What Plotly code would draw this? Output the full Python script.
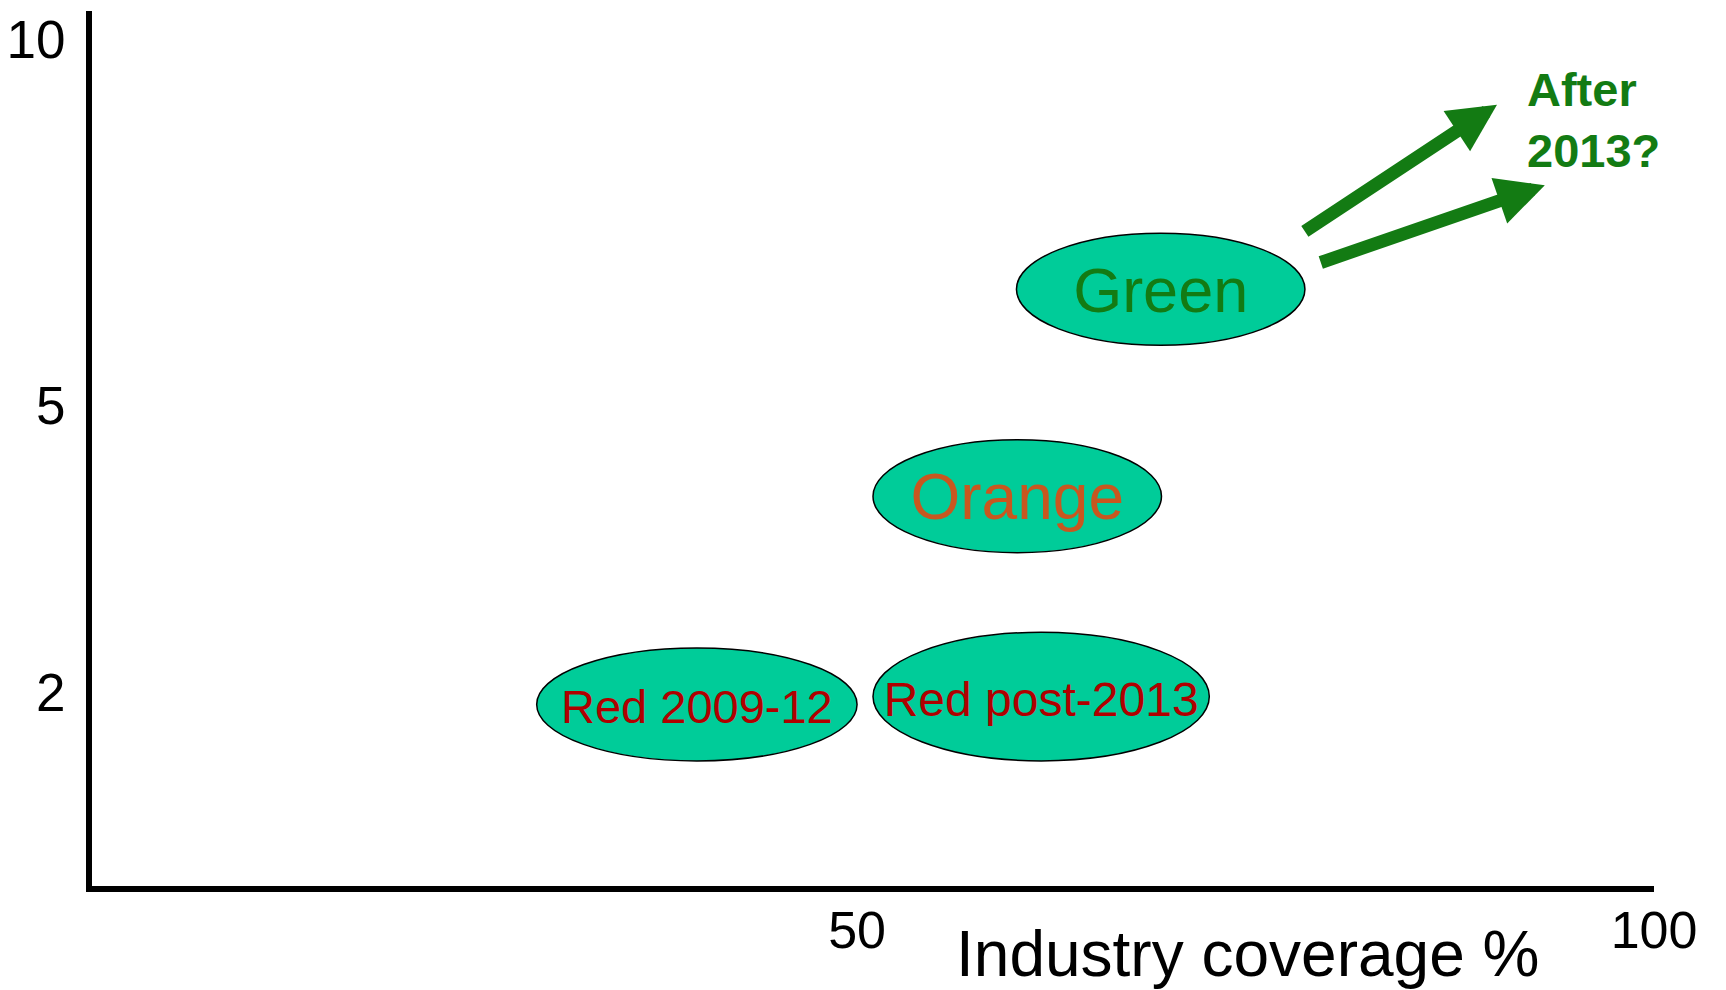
import plotly.graph_objects as go

# Programme stages: each oval spans a range of industry coverage (%) and a range on the level scale
stages = ["Green", "Orange", "Red 2009-12", "Red post-2013"]
coverage_low = [60.0, 51.0, 29.9, 51.0]
coverage_high = [78.1, 69.1, 50.0, 72.1]
level_low = [61.8, 38.1, 14.3, 14.3]
level_high = [74.6, 51.0, 27.2, 29.0]

# Vertical scale ticks (schematic, non-uniform spacing)
level_tick_pos = [22.1, 54.9, 96.7]
level_tick_text = ["2", "5", "10"]

# Horizontal scale ticks
coverage_ticks = [50, 100]

outlook_text = "After<br>2013?"

# ---- styling ----
FONT = "Liberation Sans, Arial, sans-serif"
OVAL_FILL = "#00CC99"
ARROW_GREEN = "#137B13"
label_style = {
    "Green": ("#137B13", 63),
    "Orange": ("#C8571F", 64),
    "Red 2009-12": ("#B00000", 47),
    "Red post-2013": ("#B00000", 48),
}
LABEL_DROP = 0.8  # nudge labels slightly below the oval centre (level units)

ML, MR, MT, MB = 92, 72, 11, 104
PLOT_W = 1726 - ML - MR

cx = [(a + b) / 2 for a, b in zip(coverage_low, coverage_high)]
cy = [(a + b) / 2 - LABEL_DROP for a, b in zip(level_low, level_high)]

fig = go.Figure()

fig.add_trace(go.Scatter(
    x=cx, y=cy, mode="text", text=stages,
    textposition="middle center",
    textfont=dict(
        family=FONT,
        color=[label_style[s][0] for s in stages],
        size=[label_style[s][1] for s in stages],
    ),
    hoverinfo="skip", showlegend=False,
))

for x0, x1, y0, y1 in zip(coverage_low, coverage_high, level_low, level_high):
    fig.add_shape(
        type="circle", xref="x", yref="y",
        x0=x0, x1=x1, y0=y0, y1=y1,
        fillcolor=OVAL_FILL, line=dict(color="black", width=1.5),
        layer="below",
    )

# Two outlook arrows leaving the Green oval
for (tx, ty), (hx, hy) in [((78.0, 74.7), (90.15, 89.3)), ((79.0, 71.2), (93.15, 80.1))]:
    fig.add_annotation(
        x=hx, y=hy, ax=tx, ay=ty, xref="x", yref="y", axref="x", ayref="y",
        text="", showarrow=True, arrowhead=2, arrowsize=0.74,
        arrowwidth=13, arrowcolor=ARROW_GREEN, standoff=0,
    )

fig.add_annotation(
    x=(1524.6 - ML) / PLOT_W, y=0.876, xref="paper", yref="paper",
    xanchor="left", yanchor="middle", align="left",
    text="<b>" + outlook_text + "</b>", showarrow=False,
    font=dict(family=FONT, size=47, color=ARROW_GREEN),
)

# Horizontal axis title
fig.add_annotation(
    x=(1247 - ML) / PLOT_W, y=-0.078, xref="paper", yref="paper",
    xanchor="center", yanchor="middle",
    text="Industry coverage %", showarrow=False,
    font=dict(family=FONT, size=64, color="black"),
)

fig.update_xaxes(
    range=[2, 100], tickvals=coverage_ticks, ticktext=[str(v) for v in coverage_ticks],
    showgrid=False, zeroline=False, showline=True, linecolor="black", linewidth=6,
    ticks="", tickfont=dict(family=FONT, size=52, color="black"),
    ticklabelstandoff=-6, automargin=False,
)
fig.update_yaxes(
    range=[0, 100], tickvals=level_tick_pos, ticktext=level_tick_text,
    showgrid=False, zeroline=False, showline=True, linecolor="black", linewidth=6,
    ticks="", tickfont=dict(family=FONT, size=53, color="black"),
    ticklabelstandoff=10, automargin=False,
)

fig.update_layout(
    width=1726, height=990,
    margin=dict(l=ML, r=MR, t=MT, b=MB, pad=0),
    plot_bgcolor="white", paper_bgcolor="white",
    showlegend=False,
)

fig.write_html("out.html")
